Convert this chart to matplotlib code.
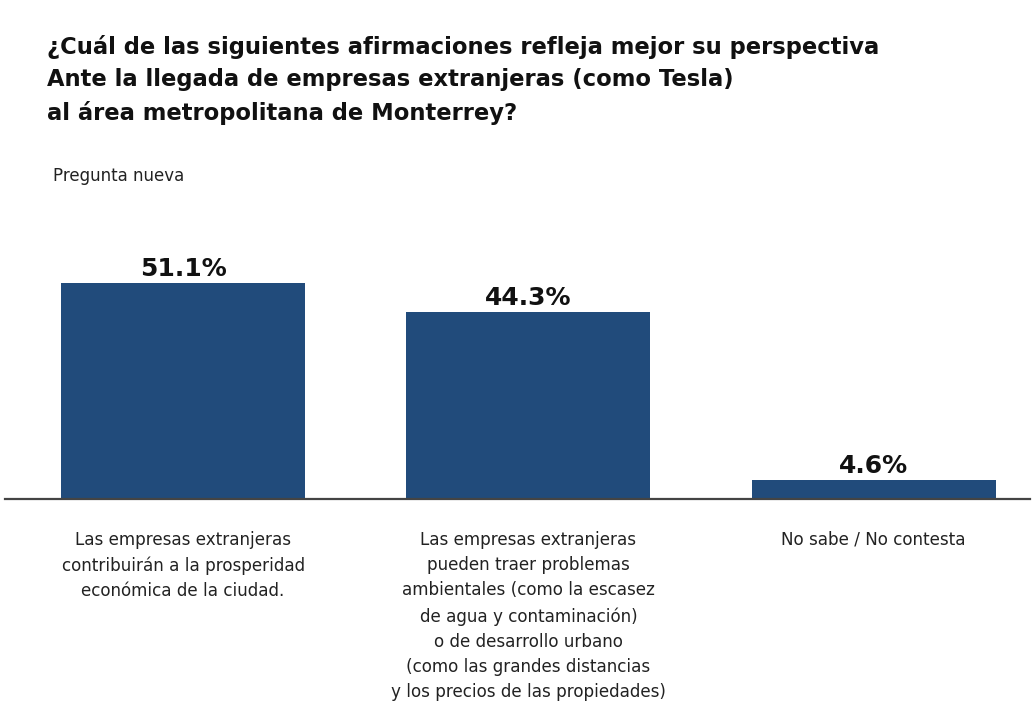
import matplotlib.pyplot as plt

# Survey answers and their shares (%)
categories = [
    "Las empresas extranjeras\ncontribuirán a la prosperidad\neconómica de la ciudad.",
    "Las empresas extranjeras\npueden traer problemas\nambientales (como la escasez\nde agua y contaminación)\n"
    "o de desarrollo urbano\n(como las grandes distancias\ny los precios de las propiedades)",
    "No sabe / No contesta",
]
shares = [51.1, 44.3, 4.6]

title = ("¿Cuál de las siguientes afirmaciones refleja mejor su perspectiva\n"
         "Ante la llegada de empresas extranjeras (como Tesla)\n"
         "al área metropolitana de Monterrey?")
subtitle = "Pregunta nueva"

BAR_COLOR = "#214b7b"

plt.rcParams["font.family"] = ["DejaVu Sans"]

fig = plt.figure(figsize=(10.35, 7.1), dpi=100)
ax = fig.add_axes([0.0048, 0.2972, 0.9903, 0.3575])

x = list(range(len(shares)))
bars = ax.bar(x, shares, width=0.707, color=BAR_COLOR, zorder=2)

for rect, val in zip(bars, shares):
    ax.annotate(f"{val:.1f}%", (rect.get_x() + rect.get_width() / 2, rect.get_height()),
                xytext=(0, 1), textcoords="offset points",
                ha="center", va="bottom", fontsize=18, fontweight="bold", color="#111111")

ax.set_xlim(-0.516, 2.453)
ax.set_ylim(0, 60)
ax.set_yticks([])
ax.set_xticks(x)
ax.set_xticklabels(categories, fontsize=12.1, color="#222222", linespacing=1.52)
ax.tick_params(axis="x", length=0, pad=23)

for side in ("top", "right", "left"):
    ax.spines[side].set_visible(False)
ax.spines["bottom"].set_color("#444444")
ax.spines["bottom"].set_linewidth(1.6)

fig.text(47 / 1035, 1 - 35 / 710, title, ha="left", va="top",
         fontsize=16.3, fontweight="bold", color="#111111", linespacing=1.52)
fig.text(53 / 1035, 1 - 167 / 710, subtitle, ha="left", va="top",
         fontsize=12, color="#222222")

fig.savefig("out.png", dpi=100, facecolor="white")
